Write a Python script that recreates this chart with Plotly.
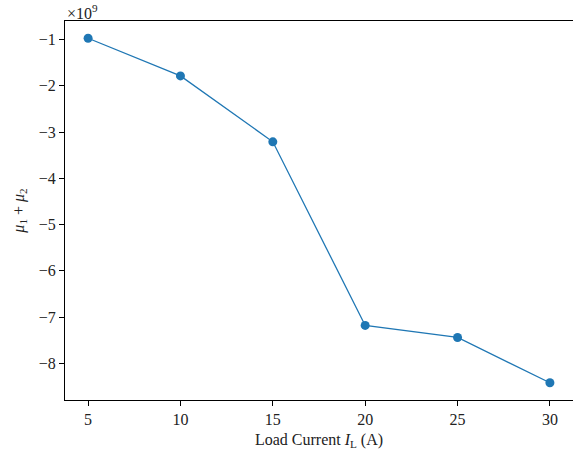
import plotly.graph_objects as go

load_current = [5, 10, 15, 20, 25, 30]
mu_sum = [-0.97e9, -1.785e9, -3.21e9, -7.18e9, -7.44e9, -8.42e9]
x_ticks = [5, 10, 15, 20, 25, 30]
y_ticks = [-1, -2, -3, -4, -5, -6, -7, -8]

scale = 1e9
y_scaled = [v / scale for v in mu_sum]

font_family = "Liberation Serif, DejaVu Serif, serif"
color = "#1f77b4"

fig = go.Figure()
fig.add_trace(go.Scatter(
    x=load_current, y=y_scaled, mode="lines+markers",
    line=dict(color=color, width=1.3),
    marker=dict(color=color, size=9),
    showlegend=False,
))

fig.update_layout(
    width=573, height=453,
    margin=dict(l=65, r=0, t=21, b=53, autoexpand=False),
    plot_bgcolor="white", paper_bgcolor="white",
    font=dict(family=font_family, size=16, color="#222"),
)
fig.update_xaxes(
    range=[3.75, 31.25], tickvals=x_ticks, ticktext=[str(t) for t in x_ticks],
    showgrid=False, zeroline=False, showline=True, linecolor="black", linewidth=1.2,
    mirror=True, ticks="outside", ticklen=5, tickcolor="black", automargin=False,
    title=dict(text="Load Current <i>I</i><sub>L</sub> (A)", standoff=6, font=dict(size=16)),
)
fig.update_yaxes(
    range=[-8.7925, -0.5975], tickvals=y_ticks,
    ticktext=["\u2212" + str(abs(t)) for t in y_ticks],
    showgrid=False, zeroline=False, showline=True, linecolor="black", linewidth=1.2,
    mirror=True, ticks="outside", ticklen=5, tickcolor="black", automargin=False,
    title=dict(text="<i>μ</i><sub>1</sub> + <i>μ</i><sub>2</sub>", standoff=10, font=dict(size=16)),
)
fig.add_annotation(
    xref="paper", yref="paper", x=0, y=1, xanchor="left", yanchor="bottom",
    text="\u00d710<sup>9</sup>", showarrow=False, font=dict(size=16), yshift=-3,
)

fig.write_html(
    "out.html",
    config={"displayModeBar": False},
    post_script="document.body.style.margin='0';document.body.style.overflow='hidden';",
)
